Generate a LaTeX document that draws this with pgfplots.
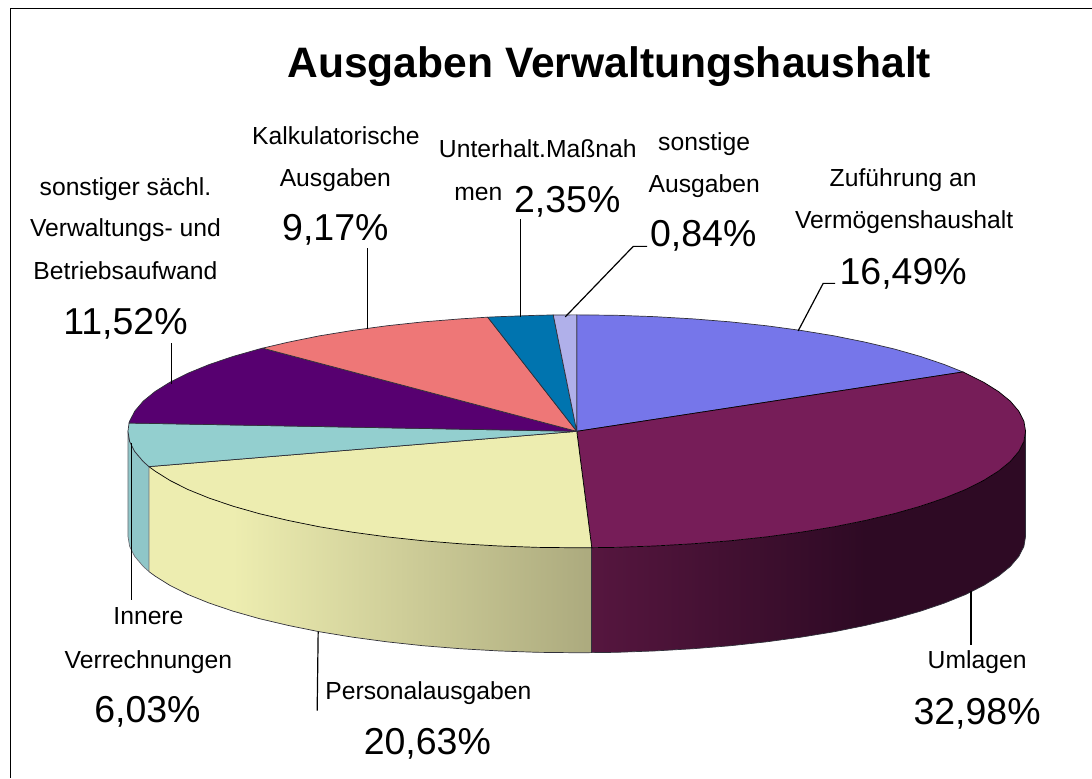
\documentclass[border=0pt]{standalone}
\usepackage{fontspec}
\setmainfont{Liberation Sans}
\usepackage{pgfplots}
\pgfplotsset{compat=1.18}
\definecolor{cA}{HTML}{7676EA}
\definecolor{cB}{HTML}{761D58}
\definecolor{cC}{HTML}{EDEDB0}
\definecolor{cD}{HTML}{93CFCF}
\definecolor{cE}{HTML}{570070}
\definecolor{cF}{HTML}{EE7777}
\definecolor{cG}{HTML}{0074AF}
\definecolor{cH}{HTML}{B0B0EA}
\definecolor{wBa}{HTML}{56163F}
\definecolor{wBb}{HTML}{2E0A24}
\definecolor{wCa}{HTML}{EDEDB0}
\definecolor{wCb}{HTML}{ACAA7E}
\definecolor{wD}{HTML}{8FC6C8}
\definecolor{edge}{HTML}{30303A}
\newcommand{\lab}[3]{\node[anchor=base,inner sep=0pt,xshift=0.5pt,yshift=-1pt,font=\fontsize{24.7}{26}\selectfont] at (axis cs:#1,#2) {#3};}
\newcommand{\val}[3]{\node[anchor=base,inner sep=0pt,xshift=0.5pt,yshift=-1pt,font=\fontsize{37.5}{39}\selectfont] at (axis cs:#1,#2) {#3};}
\begin{document}
\begin{tikzpicture}[x=1pt,y=1pt]
\begin{axis}[
  at={(0pt,0pt)},anchor=south west,
  width=1092pt,height=778pt,scale only axis,
  xmin=0,xmax=1092,ymin=0,ymax=778,y dir=reverse,
  hide axis,clip=false]
% frame
\addplot[black,line width=0.9pt] coordinates {(10.5,778) (10.5,8.5) (1092,8.5)};
% side walls
\addplot[draw=none,fill=wBb] coordinates {
(1026,431.5)(1024.3,441.7)(1019.2,451.7)(1010.7,461.7)(998.9,471.3)(983.9,480.7)(965.8,489.8)(944.8,498.3)(920.9,506.4)(894.5,513.9)(865.6,520.7)
(865.6,625.7)(894.5,618.9)(920.9,611.4)(944.8,603.3)(965.8,594.8)(983.9,585.7)(998.9,576.3)(1010.7,566.7)(1019.2,556.7)(1024.3,546.7)(1026,536.5)} --cycle;
\addplot[draw=none,left color=wBa,right color=wBb] coordinates {
(866.1,520.7)(834.5,527)(801.5,532.4)(766.8,537.1)(730.6,541)(693.2,544)(655,546.2)(616.1,547.6)(592,547.9)
(592,652.9)(616.1,652.6)(655,651.2)(693.2,649)(730.6,646)(766.8,642.1)(801.5,637.4)(834.5,632)(866.1,625.7)} --cycle;
\addplot[edge,line width=0.7pt] coordinates {(1026,431.5)(1026,536.5)(1024.3,546.7)(1019.2,556.7)(1010.7,566.7)(998.9,576.3)(983.9,585.7)(965.8,594.8)(944.8,603.3)(920.9,611.4)(894.5,618.9)(865.6,625.7)(834.5,632)(801.5,637.4)(766.8,642.1)(730.6,646)(693.2,649)(655,651.2)(616.1,652.6)(592,652.9)};
\addplot[draw=none,left color=wCa,right color=wCb] coordinates {
(592,547.9)(577,548)(537.9,547.6)(499,546.2)(460.8,544)(423.4,541)(387.2,537.1)(352.5,532.4)(319.5,527)(288.4,520.7)(259.5,513.9)(233.1,506.4)
(233.1,611.4)(259.5,618.9)(288.4,625.7)(319.5,632)(352.5,637.4)(387.2,642.1)(423.4,646)(460.8,649)(499,651.2)(537.9,652.6)(577,653)(592,652.9)} --cycle;
\addplot[draw=none,fill=wCa] coordinates {
(233.6,506.4)(209.2,498.3)(188.2,489.8)(170.1,480.7)(155.1,471.3)(149,466.8)
(149,571.8)(155.1,576.3)(170.1,585.7)(188.2,594.8)(209.2,603.3)(233.6,611.4)} --cycle;
\addplot[edge,line width=0.7pt] coordinates {(149,571.8)(155.1,576.3)(170.1,585.7)(188.2,594.8)(209.2,603.3)(233.1,611.4)(259.5,618.9)(288.4,625.7)(319.5,632)(352.5,637.4)(387.2,642.1)(423.4,646)(460.8,649)(499,651.2)(537.9,652.6)(577,653)(592,652.9)};
\addplot[edge,line width=0.7pt] coordinates {(592,547.9)(592,652.9)};
\addplot[draw=edge!70,line width=0.7pt,fill=wD] coordinates {
(149,466.8)(143.3,461.7)(134.8,451.7)(129.7,441.7)(128,431.5)
(128,536.5)(129.7,546.7)(134.8,556.7)(143.3,566.7)(149,571.8)} --cycle;
% top slices
\addplot[draw=edge,line width=0.7pt,fill=cA] coordinates {
(577,431.5)(577,315)(616.1,315.4)(655,316.8)(693.2,319)(730.6,322)(766.8,325.9)(801.5,330.6)(834.5,336)(865.6,342.3)(894.5,349.1)(920.9,356.6)(944.8,364.7)(963.3,372.1)} --cycle;
\addplot[draw=black,line width=0.7pt,fill=cB] coordinates {
(577,431.5)(963.3,372.1)(965.8,373.3)(983.9,382.3)(998.9,391.7)(1010.7,401.3)(1019.2,411.3)(1024.3,421.3)(1026,431.5)(1024.3,441.7)(1019.2,451.7)(1010.7,461.7)(998.9,471.3)(983.9,480.7)(965.8,489.8)(944.8,498.3)(920.9,506.4)(894.5,513.9)(865.6,520.7)(834.5,527)(801.5,532.4)(766.8,537.1)(730.6,541)(693.2,544)(655,546.2)(616.1,547.6)(592,547.9)} --cycle;
\addplot[draw=black,line width=0.7pt,fill=cC] coordinates {
(577,431.5)(592,547.9)(577,548)(537.9,547.6)(499,546.2)(460.8,544)(423.4,541)(387.2,537.1)(352.5,532.4)(319.5,527)(288.4,520.7)(259.5,513.9)(233.1,506.4)(209.2,498.3)(188.2,489.8)(170.1,480.7)(155.1,471.3)(149,466.8)} --cycle;
\addplot[draw=edge,line width=0.7pt,fill=cD] coordinates {
(577,431.5)(149,466.8)(143.3,461.7)(134.8,451.7)(129.7,441.7)(128,431.5)(129.1,423.2)} --cycle;
\addplot[draw=edge,line width=0.7pt,fill=cE] coordinates {
(577,431.5)(129.1,423.2)(129.7,421.3)(134.8,411.3)(143.3,401.3)(155.1,391.7)(170.1,382.3)(188.2,373.3)(209.2,364.7)(233.1,356.6)(259.5,349.1)(262.7,348.3)} --cycle;
\addplot[draw=edge,line width=0.7pt,fill=cF] coordinates {
(577,431.5)(262.7,348.3)(288.4,342.3)(319.5,336)(352.5,330.6)(387.2,325.9)(423.4,322)(460.8,319)(487.9,317.3)} --cycle;
\addplot[draw=edge,line width=0.7pt,fill=cG] coordinates {
(577,431.5)(487.9,317.3)(499,316.8)(537.9,315.4)(553.5,315.1)} --cycle;
\addplot[draw=edge,line width=0.7pt,fill=cH] coordinates {
(577,431.5)(553.5,315.1)(577,315)} --cycle;
% leader lines
\addplot[black,line width=1.2pt] coordinates {(798.5,331)(823.5,283.5)(835.5,283.5)};
\addplot[black,line width=1.2pt] coordinates {(565.5,317)(633.5,246.5)(647.5,246.5)};
\addplot[black,line width=1.2pt] coordinates {(520.7,317)(520.7,219)};
\addplot[black,line width=1.2pt] coordinates {(367.7,329)(367.7,248)};
\addplot[black,line width=1.2pt] coordinates {(171.3,384)(171.3,343)};
\addplot[black,line width=1.3pt] coordinates {(131.8,443)(131.8,600)};
\addplot[black,line width=1.2pt] coordinates {(318.3,632)(317.3,711)};
\addplot[black,line width=1.2pt] coordinates {(971.3,591)(971.3,645)};
% texts
\node[anchor=base,inner sep=0pt,font=\fontsize{42.6}{44}\selectfont\bfseries] at (axis cs:609.5,77.5) {Ausgaben Verwaltungshaushalt};
\lab{335.5}{144}{Kalkulatorische}\lab{335}{186}{Ausgaben}\val{335}{240}{9,17\%}
\lab{537.5}{157}{Unterhalt.Maßnah}\lab{478}{200}{men}\val{567}{212}{2,35\%}
\lab{704}{150}{sonstige}\lab{704}{192}{Ausgaben}\val{703}{246}{0,84\%}
\lab{903}{186}{Zuführung an}\lab{904}{228}{Vermögenshaushalt}\val{903}{284}{16,49\%}
\lab{125}{195}{sonstiger sächl.}\lab{125}{236}{Verwaltungs- und}\lab{125}{279}{Betriebsaufwand}\val{125}{334}{11,52\%}
\lab{148}{624}{Innere}\lab{148}{668}{Verrechnungen}\val{147}{722}{6,03\%}
\lab{428}{699}{Personalausgaben}\val{427}{754}{20,63\%}
\lab{977}{668}{Umlagen}\val{977}{724}{32,98\%}
\end{axis}
\path[use as bounding box] (0pt,0pt) rectangle (1092pt,778pt);
\end{tikzpicture}
\end{document}
